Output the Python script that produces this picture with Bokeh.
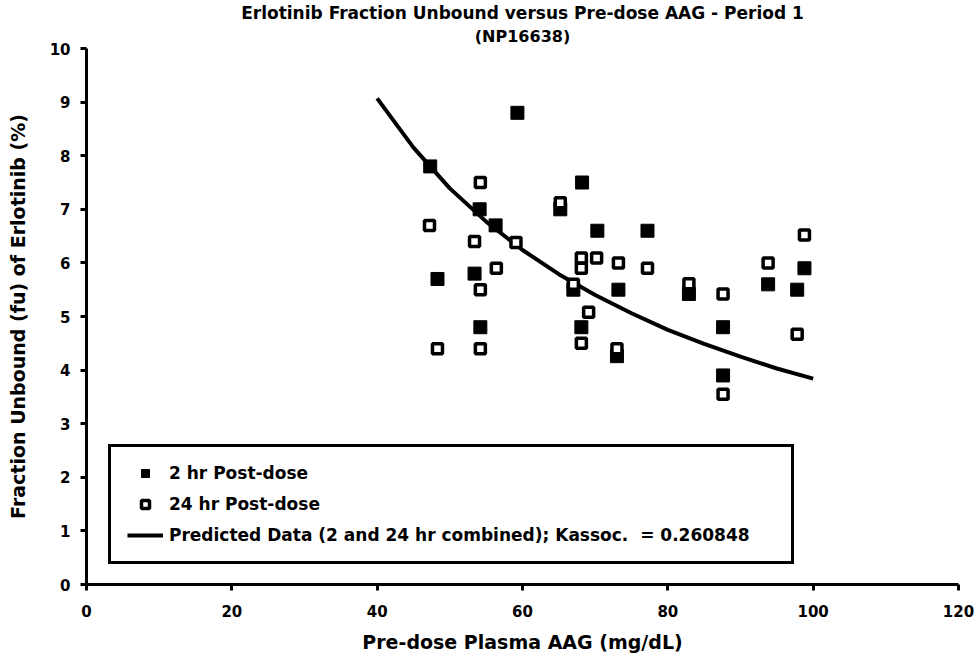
from bokeh.plotting import figure
from bokeh.models import Range1d, Legend, LegendItem, Title, FixedTicker
from bokeh.embed import file_html
from bokeh.resources import INLINE

# 2 hr post-dose (filled squares)
aag_2hr = [47.3, 54.1, 56.3, 59.3, 48.3, 53.4, 54.2, 65.2, 68.2, 70.3, 77.2,
           67.0, 73.2, 68.1, 73.0, 82.9, 87.6, 87.6, 93.8, 98.8, 97.8]
fu_2hr = [7.8, 7.0, 6.7, 8.8, 5.7, 5.8, 4.8, 7.0, 7.5, 6.6, 6.6,
          5.5, 5.5, 4.8, 4.26, 5.42, 4.8, 3.9, 5.6, 5.9, 5.5]

# 24 hr post-dose (open squares)
aag_24hr = [54.2, 47.2, 53.4, 59.1, 56.4, 54.2, 48.3, 54.2, 65.2, 68.1, 70.2,
            68.1, 73.2, 77.2, 67.0, 69.1, 68.1, 73.0, 82.9, 87.6, 87.6, 93.8,
            98.8, 97.8]
fu_24hr = [7.5, 6.7, 6.4, 6.38, 5.9, 5.5, 4.4, 4.4, 7.12, 6.09, 6.09,
           5.9, 6.0, 5.9, 5.6, 5.08, 4.5, 4.4, 5.61, 5.42, 3.55, 6.0,
           6.52, 4.67]

# Predicted curve
pred_aag = [40, 45, 50, 55, 60, 65, 70, 75, 80, 85, 90, 95, 100]
pred_fu = [9.07, 8.15, 7.39, 6.77, 6.24, 5.79, 5.40, 5.06, 4.75, 4.49, 4.25, 4.03, 3.84]

x_ticks = [0, 20, 40, 60, 80, 100, 120]
y_ticks = [0, 1, 2, 3, 4, 5, 6, 7, 8, 9, 10]

title_lines = ["Erlotinib Fraction Unbound versus Pre-dose AAG - Period 1",
               "(NP16638)"]

FONT = "DejaVu Sans"

p = figure(width=974, height=663, output_backend="svg", toolbar_location=None,
           x_range=Range1d(0, 120), y_range=Range1d(0, 10),
           min_border_left=86, min_border_right=16, min_border_top=48,
           min_border_bottom=79, title=title_lines[0])

p.title.text_font = FONT
p.title.text_font_size = "17px"
p.title.text_font_style = "bold"
p.title.text_color = "black"
p.title.align = "center"
p.title.standoff = 0
p.add_layout(Title(text=title_lines[1], text_font=FONT, text_font_size="16px",
                   text_font_style="bold", text_color="black",
                   align="center", standoff=5), "above")

p.outline_line_color = None
p.xgrid.grid_line_color = None
p.ygrid.grid_line_color = None
p.background_fill_color = "white"
p.border_fill_color = "white"

p.xaxis.ticker = FixedTicker(ticks=x_ticks)
p.yaxis.ticker = FixedTicker(ticks=y_ticks)
for ax in (p.xaxis, p.yaxis):
    ax.axis_line_width = 3
    ax.axis_line_color = "black"
    ax.major_tick_line_width = 3
    ax.major_tick_line_color = "black"
    ax.major_tick_out = 6
    ax.major_tick_in = 0
    ax.minor_tick_out = 0
    ax.minor_tick_in = 0
    ax.major_label_text_font = FONT
    ax.major_label_text_font_style = "bold"
    ax.major_label_text_font_size = "15px"
    ax.major_label_text_color = "black"
    ax.axis_label_text_font = FONT
    ax.axis_label_text_font_style = "bold"
    ax.axis_label_text_font_size = "19px"
    ax.axis_label_text_color = "black"

p.xaxis.axis_label = "Pre-dose Plasma AAG (mg/dL)"
p.yaxis.axis_label = "Fraction Unbound (fu) of Erlotinib (%)"
p.xaxis.major_label_standoff = 14
p.xaxis.axis_label_standoff = 11
p.yaxis.major_label_standoff = 10
p.yaxis.axis_label_standoff = 18

r_line = p.line(pred_aag, pred_fu, line_width=4, line_color="black")
r_2hr = p.scatter(aag_2hr, fu_2hr, marker="square", size=13,
                  fill_color="black", line_color="black")
r_24hr = p.scatter(aag_24hr, fu_24hr, marker="square", size=10,
                   fill_color="white", line_color="black", line_width=3.5)

legend = Legend(items=[
    LegendItem(label="2 hr Post-dose", renderers=[r_2hr]),
    LegendItem(label="24 hr Post-dose", renderers=[r_24hr]),
    LegendItem(label="Predicted Data (2 and 24 hr combined); Kassoc.  = 0.260848",
               renderers=[r_line]),
], location=(22, 20), border_line_color="black", border_line_width=3,
   border_line_alpha=1.0,
   padding=16, spacing=11, label_height=20, glyph_height=20, glyph_width=36,
   label_width=606, label_standoff=6, label_text_font=FONT,
   label_text_font_style="bold", label_text_color="black",
   label_text_font_size="17px", background_fill_color="white",
   background_fill_alpha=1.0)
p.add_layout(legend)

open("out.html", "w").write(file_html(p, INLINE))
